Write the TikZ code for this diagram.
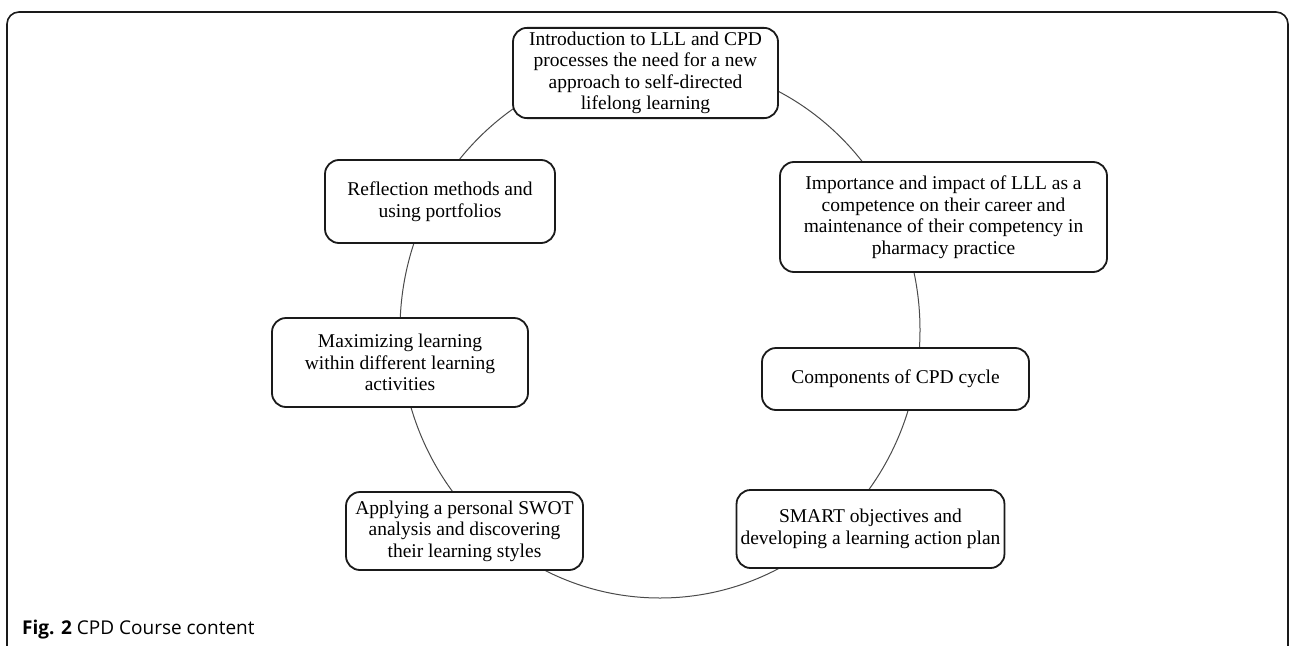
\documentclass[tikz,border=0pt]{standalone}
\usepackage{fontspec}
\setmainfont{Liberation Serif}
\newfontfamily\captionfont{Open Sans}
\definecolor{frameDark}{HTML}{1A1A1A}
\definecolor{ringGray}{HTML}{4A4A4A}
\tikzset{
  topicBox/.style={rectangle, rounded corners=14pt, draw=frameDark, line width=1.8pt,
                   fill=white, align=center, inner sep=4pt,
                   font=\fontsize{19.5}{21.5}\selectfont},
  ringLine/.style={draw=ringGray, line width=1pt},
  frameBox/.style={draw=frameDark, line width=1.6pt, rounded corners=12pt},
}

\begin{document}
\begin{tikzpicture}[x=1pt, y=-1pt]
  \useasboundingbox (0,0) rectangle (1290,645);
  % outer frame, open at the bottom of the page
  \draw[frameBox] (7,12) rectangle (1288,690);
  % the cycle ring behind the boxes
  \coordinate (hub) at (660,330);
  \draw[ringLine] (hub) ellipse [x radius=260, y radius=268];

  \node[topicBox, minimum width=265pt, minimum height=90pt] (intro) at (645.5,73)
    {Introduction to LLL and CPD\\processes the need for a new\\approach to self-directed\\lifelong learning};
  \node[topicBox, minimum width=327pt, minimum height=110pt] (impact) at (943.5,217)
    {Importance and impact of LLL as a\\competence on their career and\\maintenance of their competency in\\pharmacy practice};
  \node[topicBox, minimum width=267pt, minimum height=62pt] (cycle) at (895.5,379)
    {Components of CPD cycle};
  \node[topicBox, minimum width=225pt, minimum height=78pt] (smart) at (870.5,529)
    {SMART objectives and\\developing a learning action plan};
  \node[topicBox, minimum width=237pt, minimum height=78pt] (swot) at (464.5,531)
    {Applying a personal SWOT\\analysis and discovering\\their learning styles};
  \node[topicBox, minimum width=256pt, minimum height=89pt] (maxim) at (400,362.5)
    {Maximizing learning\\within different learning\\activities};
  \node[topicBox, minimum width=230pt, minimum height=83pt] (reflect) at (440,201.5)
    {Reflection methods and\\using portfolios};

  \node[anchor=base west, inner sep=0pt, font=\captionfont\fontsize{19}{22}\selectfont]
    (caption) at (22,634) {\textbf{Fig. 2} CPD Course content};
\end{tikzpicture}
\end{document}
